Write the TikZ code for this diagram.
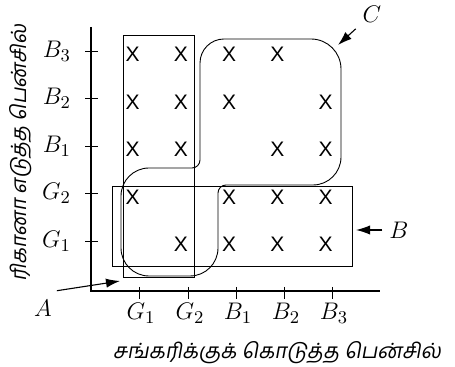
\documentclass[tikz,border=0pt]{standalone}
\usepackage{fontspec}
\newfontfamily\tamilfont[Script=Tamil,FakeSlant=0.18]{Hind Madurai}
\newfontfamily\markfont{Liberation Sans}
\usetikzlibrary{arrows.meta}

\begin{document}
\begin{tikzpicture}[x=0.5pt,y=-0.5pt,
  xmark/.style={font=\markfont\fontsize{10.5}{12}\selectfont},
  lbl/.style={font=\fontsize{12.5}{14}\selectfont},
  box/.style={line width=0.5pt},
  pointer/.style={-{Latex[length=7pt,width=4.6pt]},line width=0.55pt}]
  \useasboundingbox (0,0) rectangle (455,367);

  % அச்சுகள்
  \draw[line width=0.7pt] (91,27) -- (91,291) -- (380,291);
  \foreach \x/\t [count=\i] in {139/G_1,188/G_2,236/B_1,284/B_2,332/B_3} {
    \draw[line width=0.5pt] (\x,287) -- (\x,299);
    \node[lbl,anchor=base] (x\i) at (\x+2,320) {$\t$};
  }
  \foreach \y/\t [count=\i] in {242/G_1,194/G_2,147/B_1,99/B_2,52/B_3} {
    \draw[line width=0.5pt] (85,\y) -- (98,\y);
    \node[lbl,anchor=base east] (y\i) at (78,\y+6) {$\t$};
  }

  % குறிகள்
  \foreach \c/\r in {1/5,2/5,3/5,4/5, 1/4,2/4,3/4,5/4, 1/3,2/3,4/3,5/3,
                     1/2,3/2,4/2,5/2, 2/1,3/1,4/1,5/1} {
    \node[xmark,inner sep=0pt] (m\c\r) at ({84.5+48.2*\c},{292-47.5*\r}) {X};
  }

  % தொகுப்புகள்
  \draw[box] (123,36) rectangle (194,278);
  \draw[box] (112,187) rectangle (352,267);
  \draw[line width=0.45pt,rounded corners=12pt]
    (200,120) -- (200,39) [rounded corners=15pt] -- (341,39) [rounded corners=14pt] -- (341,185)
    [rounded corners=4pt] -- (218,185) [rounded corners=14pt] -- (218,276)
    -- (121,276) -- (121,168) [rounded corners=4pt] -- (200,168) -- cycle;

  % பெயர்கள்
  \node[lbl] (A) at (43,308) {$A$};
  \node[lbl] (B) at (399,230) {$B$};
  \node[lbl] (C) at (372,14) {$C$};
  \coordinate (tipA) at (120,281);
  \coordinate (tipB) at (356,230);
  \coordinate (tipC) at (338,45);
  \draw[pointer] (A.north east) ++(-2,-2) -- (tipA);
  \draw[pointer] (B) -- (tipB);
  \draw[pointer] (C) -- (tipC);

  \node[font=\tamilfont\fontsize{10.5}{12}\selectfont] (xlabel) at (277,353)
    {சங்கரிக்குக் கொடுத்த பென்சில்};
  \node[font=\tamilfont\fontsize{10.5}{12}\selectfont,rotate=90] (ylabel) at (21,153)
    {ரிகானா எடுத்த பென்சில்};
\end{tikzpicture}
\end{document}
